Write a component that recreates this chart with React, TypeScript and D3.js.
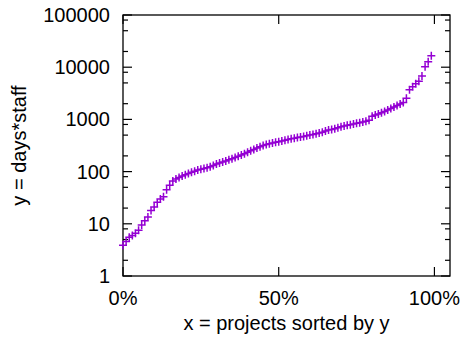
import React, { useEffect, useRef } from 'react';
import * as d3 from 'd3';

// project effort (days*staff), sorted ascending, one project per percent
const effort: number[] = [
  3.9, 4.6, 5.5, 6.0, 6.6, 7.5, 9.5, 11.5, 13.5, 18,
  21, 26, 30, 33, 45, 55, 66, 72, 77, 82,
  87, 92, 97, 102, 107, 111, 115, 119, 124, 131,
  140, 146, 153, 160, 168, 177, 186, 196, 207, 220,
  235, 250, 266, 282, 298, 315, 330, 343, 355, 365,
  375, 387, 400, 413, 425, 437, 448, 460, 472, 486,
  500, 515, 530, 548, 570, 600, 625, 640, 665, 690,
  720, 745, 770, 790, 815, 840, 865, 895, 925, 960,
  1150, 1210, 1270, 1340, 1420, 1510, 1610, 1720, 1850, 1970,
  2100, 2550, 3700, 4200, 4800, 5400, 6800, 10200, 12700, 16600,
];

const xTicks: number[] = [0, 0.5, 1];
const yTicks: number[] = [1, 10, 100, 1000, 10000, 100000];
const yMinorSteps: number[] = [2, 5, 8];

const xLabel = 'x = projects sorted by y';
const yLabel = 'y = days*staff';

const W = 465;
const H = 338;

const App: React.FC = () => {
  const ref = useRef<SVGSVGElement>(null);

  useEffect(() => {
    if (!ref.current) return;
    const margin = { top: 15, right: 15, bottom: 62, left: 123 };
    const width = W - margin.left - margin.right;
    const height = H - margin.top - margin.bottom;
    const font = '"Liberation Sans", Arial, Helvetica, sans-serif';
    const color = '#9400d3';

    const svg = d3.select(ref.current);
    svg.selectAll('*').remove();
    const g = svg
      .append('g')
      .attr('transform', 'translate(' + margin.left + ',' + margin.top + ')');

    // 0%..100% sits at 0..311px, the frame runs on to ~105%
    const x = d3.scaleLinear().domain([0, 1.05]).range([0, width]);
    const y = d3.scaleLog().domain([1, 100000]).range([height, 0]);

    const data = effort.map((v, i) => ({ p: i / effort.length, v }));

    // ticks, drawn inward on all four sides
    const major = 9;
    const minor = 5;
    const tickG = g.append('g').attr('stroke', '#000').attr('stroke-width', 1.2);

    yTicks.forEach((t) => {
      const yy = y(t);
      tickG.append('line').attr('x1', 0).attr('x2', major).attr('y1', yy).attr('y2', yy);
      tickG.append('line').attr('x1', width).attr('x2', width - major).attr('y1', yy).attr('y2', yy);
      if (t < 100000) {
        yMinorSteps.forEach((m) => {
          const ym = y(t * m);
          tickG.append('line').attr('x1', 0).attr('x2', minor).attr('y1', ym).attr('y2', ym);
          tickG.append('line').attr('x1', width).attr('x2', width - minor).attr('y1', ym).attr('y2', ym);
        });
      }
    });

    xTicks.forEach((t) => {
      const xx = x(t);
      tickG.append('line').attr('x1', xx).attr('x2', xx).attr('y1', height).attr('y2', height - major);
      tickG.append('line').attr('x1', xx).attr('x2', xx).attr('y1', 0).attr('y2', major);
    });

    // frame
    g.append('rect')
      .attr('width', width)
      .attr('height', height)
      .attr('fill', 'none')
      .attr('stroke', '#000')
      .attr('stroke-width', 1.3);

    // tick labels
    g.append('g')
      .selectAll('text')
      .data(yTicks)
      .join('text')
      .attr('x', -13)
      .attr('y', (d) => y(d) + 7)
      .attr('text-anchor', 'end')
      .attr('font-family', font)
      .attr('font-size', 20)
      .text((d) => String(d));

    g.append('g')
      .selectAll('text')
      .data(xTicks)
      .join('text')
      .attr('x', (d) => x(d))
      .attr('y', height + 29)
      .attr('text-anchor', 'middle')
      .attr('font-family', font)
      .attr('font-size', 20)
      .text((d) => d3.format('.0%')(d));

    // axis titles
    g.append('text')
      .attr('x', width / 2)
      .attr('y', height + 54)
      .attr('text-anchor', 'middle')
      .attr('font-family', font)
      .attr('font-size', 20)
      .text(xLabel);

    g.append('text')
      .attr('transform', 'translate(' + (26 - margin.left) + ',' + height / 2 + ') rotate(-90)')
      .attr('text-anchor', 'middle')
      .attr('font-family', font)
      .attr('font-size', 20)
      .text(yLabel);

    // points as "+" markers
    const s = 4;
    g.append('path')
      .attr('fill', 'none')
      .attr('stroke', color)
      .attr('stroke-width', 1.5)
      .attr(
        'd',
        data
          .map((d) => {
            const px = x(d.p);
            const py = y(d.v);
            return `M${px - s},${py}H${px + s}M${px},${py - s}V${py + s}`;
          })
          .join('')
      );
  }, []);

  return (
    <svg
      ref={ref}
      width={W}
      height={H}
      style={{ position: 'absolute', left: 0, top: 0, background: '#fff' }}
    ></svg>
  );
};

export default App;
